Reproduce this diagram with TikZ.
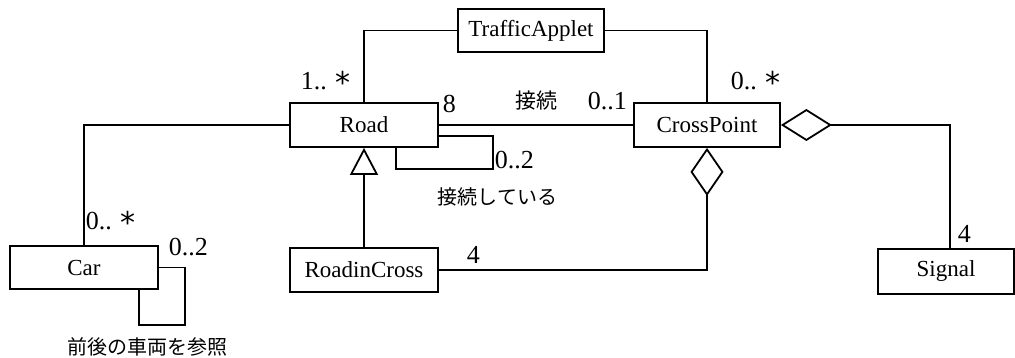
\documentclass[tikz,border=0pt]{standalone}
\usepackage{fontspec}
\setmainfont{Liberation Serif}
\newfontfamily\jp{Noto Sans CJK JP}
\newfontfamily\astf{DejaVu Sans}
\usetikzlibrary{arrows.meta}
\newcommand\starmark{{\astf\fontsize{30}{30}\selectfont\raisebox{-4pt}{*}}}
\begin{document}
\begin{tikzpicture}[x=1pt,y=-1pt, line width=1.8pt,
  cls/.style={draw, rectangle, inner sep=0pt, font=\fontsize{23}{26}\selectfont},
  mult/.style={inner sep=0pt, anchor=base west, font=\fontsize{26}{28}\selectfont},
  jlab/.style={inner sep=0pt, anchor=base west, font=\jp\fontsize{20}{22}\selectfont}]
\useasboundingbox (0,0) rectangle (1015,358);
% classes
\node[cls, minimum width=146pt, minimum height=43pt] (ta) at (531,30.5) {TrafficApplet};
\node[cls, minimum width=148pt, minimum height=44pt] (road) at (364,125) {Road};
\node[cls, minimum width=146pt, minimum height=44pt] (cp) at (707,125) {CrossPoint};
\node[cls, minimum width=148pt, minimum height=43pt] (car) at (84,267.5) {Car};
\node[cls, minimum width=148pt, minimum height=44pt] (ric) at (364,270) {RoadinCross};
\node[cls, minimum width=136pt, minimum height=45pt] (sig) at (946,271.5) {Signal};
% connectors
\draw (ta.west) -| (road.north);
\draw (ta.east) -| (cp.north);
\draw (road.east) -- (cp.west);
\draw ([yshift=-11pt]road.east) -| ++(54,33) -| ([xshift=32pt]road.south);
\draw (road.west) -| (car.north);
\draw (car.east) -| ++(26,57.5) -| ([xshift=-20pt]car.south east);
\draw[-{Triangle[open,length=27pt,width=28pt]}] (ric.north) -- (road.south);
\draw[-{Diamond[open,length=48pt,width=33pt]}] (ric.east) -| (cp.south);
\draw[{Diamond[open,length=51pt,width=32pt]}-] (cp.east) -| ([xshift=4pt]sig.north);
% labels
\node[mult] (m1) at (300,90) {1.. \starmark};
\node[mult] (m2) at (442,113) {8};
\node[jlab, font=\jp\fontsize{21}{22}\selectfont] (l1) at (515,109) {接続};
\node[mult] (m3) at (587,110) {0..1};
\node[mult] (m4) at (730,90) {0.. \starmark};
\node[mult] (m5) at (494,169) {0..2};
\node[jlab] (l2) at (437,205) {接続している};
\node[mult] (m6) at (85,230) {0.. \starmark};
\node[mult] (m7) at (168,255) {0..2};
\node[jlab] (l3) at (67,354) {前後の車両を参照};
\node[mult] (m8) at (466,263) {4};
\node[mult] (m9) at (957,243) {4};
\end{tikzpicture}
\end{document}
